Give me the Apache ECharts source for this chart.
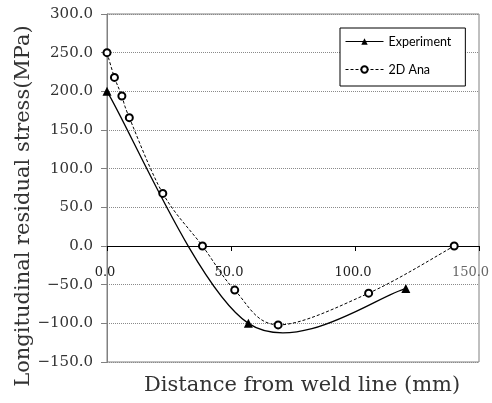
<!DOCTYPE html>
<html><head><meta charset="utf-8">
<script src="https://cdn.jsdelivr.net/npm/echarts@6/dist/echarts.min.js"></script>
<style>html,body{margin:0;padding:0;background:#fff}#c{width:492px;height:403px}</style>
</head><body><div id="c"></div>
<script>
// ---- data ----
const expX = [0, 57, 120.5];
const expY = [200, -100, -55];
const anaX = [0, 3, 6, 9, 22.5, 38.5, 51.5, 69, 105.5, 140];
const anaY = [250, 218, 194, 166, 68, 0, -57, -102, -61, 0];
const xTicks = [0, 50, 100, 150];
const yTicks = [-150, -100, -50, 0, 50, 100, 150, 200, 250, 300];
const seriesNames = ['Experiment', '2D Ana'];
const xTitle = 'Distance from weld line (mm)';
const yTitle = 'Longitudinal residual stress(MPa)';

function pairs(xs, ys) { return xs.map((x, i) => [x, ys[i]]); }
const fmt = v => (v < 0 ? '\u2212' + Math.abs(v).toFixed(1) : v.toFixed(1));

// Excel-like smoothed line (Catmull-Rom bezier through the data points)
function smoothRenderer(xs, ys, style) {
  return function (params, api) {
    const i = params.dataIndex, n = xs.length;
    if (i >= n - 1) return null;
    const p = k => { k = Math.max(0, Math.min(n - 1, k)); return api.coord([xs[k], ys[k]]); };
    const p0 = p(i - 1), p1 = p(i), p2 = p(i + 1), p3 = p(i + 2);
    return {
      type: 'bezierCurve',
      shape: {
        x1: p1[0], y1: p1[1], x2: p2[0], y2: p2[1],
        cpx1: p1[0] + (p2[0] - p0[0]) / 6, cpy1: p1[1] + (p2[1] - p0[1]) / 6,
        cpx2: p2[0] - (p3[0] - p1[0]) / 6, cpy2: p2[1] - (p3[1] - p1[1]) / 6
      },
      style: Object.assign({ fill: 'none', stroke: '#000' }, style)
    };
  };
}

const W = 492, H = 403;
const G = { left: 107, right: 13, top: 14, bottom: 41 };
const yMin = yTicks[0], yMax = yTicks[yTicks.length - 1];
// put the x axis on the y = 0 line
const xAxisOffset = -(H - G.top - G.bottom) * (0 - yMin) / (yMax - yMin);

const serif = 'DejaVu Serif';
const chart = echarts.init(document.getElementById('c'), null, { renderer: 'canvas' });
chart.setOption({
  animation: false,
  backgroundColor: '#fff',
  grid: Object.assign({ show: true, borderColor: '#808080', borderWidth: 1, containLabel: false, outerBoundsMode: 'none' }, G),
  title: {
    text: xTitle, left: 144, top: 375, padding: 0,
    textStyle: { fontFamily: serif, fontSize: 21, fontWeight: 'normal', color: '#333' }
  },
  legend: {
    data: [ { name: seriesNames[0] }, { name: seriesNames[1] } ],
    orient: 'vertical', left: 340, top: 28,
    itemWidth: 38, itemHeight: 8, itemGap: 15,
    padding: [7, 14, 10, 5],
    borderColor: '#000', borderWidth: 1, backgroundColor: '#fff', borderRadius: 0,
    lineStyle: { width: 1, opacity: 1 },
    textStyle: { fontFamily: 'Lato', fontSize: 12.5, color: '#000' }
  },
  xAxis: {
    type: 'value', min: xTicks[0], max: xTicks[xTicks.length - 1], interval: xTicks[1] - xTicks[0],
    offset: xAxisOffset,
    axisLine: { onZero: false, lineStyle: { color: '#000', width: 1 } },
    axisTick: { show: true, length: 5, lineStyle: { color: '#000' } },
    splitLine: { show: false },
    axisLabel: {
      margin: 20, fontFamily: serif, fontSize: 13, color: '#222',
      formatter: v => (v === xTicks[xTicks.length - 1] ? '{e|' + fmt(v) + '}' : '{n|' + fmt(v) + '}'),
      rich: {
        n: { fontFamily: serif, fontSize: 13, color: '#222', padding: [0, 4, 0, 0] },
        e: { fontFamily: serif, fontSize: 13, color: '#666', padding: [0, 17, 0, 0] }
      }
    }
  },
  yAxis: {
    type: 'value', min: yMin, max: yMax, interval: yTicks[1] - yTicks[0],
    name: yTitle, nameLocation: 'middle', nameRotate: 90, nameGap: 71, nameMoveOverlap: false,
    nameTextStyle: { fontFamily: serif, fontSize: 21, lineHeight: 24, color: '#333', padding: [0, 36, 0, 0] },
    axisLine: { show: true, lineStyle: { color: '#808080', width: 1 } },
    axisTick: { show: true, length: 6, lineStyle: { color: '#808080' } },
    splitLine: { show: true, lineStyle: { color: '#8a8a8a', type: [1, 1], width: 1 } },
    axisLabel: { margin: 14, fontFamily: serif, fontSize: 15, color: '#333', formatter: fmt }
  },
  series: [
    {
      name: seriesNames[0] + ' curve', type: 'custom', coordinateSystem: 'cartesian2d',
      data: pairs(expX, expY), encode: { x: 0, y: 1 }, silent: true, z: 2,
      renderItem: smoothRenderer(expX, expY, { lineWidth: 1.3 })
    },
    {
      name: seriesNames[1] + ' curve', type: 'custom', coordinateSystem: 'cartesian2d',
      data: pairs(anaX, anaY), encode: { x: 0, y: 1 }, silent: true, z: 2,
      renderItem: smoothRenderer(anaX, anaY, { lineWidth: 1, lineDash: [3, 2] })
    },
    {
      name: seriesNames[0], type: 'line', data: pairs(expX, expY), z: 5,
      symbol: 'triangle', symbolSize: 9,
      itemStyle: { color: '#000' },
      lineStyle: { color: '#000', width: 1, type: 'solid', opacity: 0 }
    },
    {
      name: seriesNames[1], type: 'line', data: pairs(anaX, anaY), z: 5,
      symbol: 'emptyCircle', symbolSize: 7,
      itemStyle: { color: '#000', borderWidth: 1 },
      lineStyle: { color: '#000', width: 1, type: [3, 2], opacity: 0 }
    }
  ]
});
</script>
</body></html>
